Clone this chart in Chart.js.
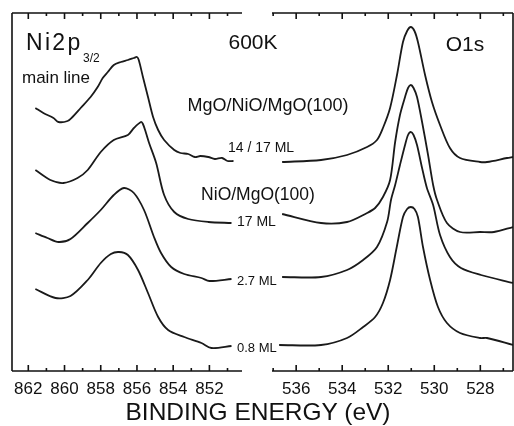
<!DOCTYPE html>
<html>
<head>
<meta charset="utf-8">
<script src="https://cdn.jsdelivr.net/npm/chart.js@4.4.0/dist/chart.umd.min.js"></script>
<style>
  body { margin: 0; background: #fff; }
  #wrap { position: relative; width: 514px; height: 426px; overflow: hidden;
          font-family: "Liberation Sans", Arial, sans-serif; color: #111; }
  canvas { position: absolute; top: 0; }
  .lbl { position: absolute; white-space: nowrap; line-height: 1; transform: translateY(-50%); }
  .c { transform: translate(-50%, -50%); }
</style>
</head>
<body>
<div id="wrap">
  <canvas id="niChart" width="250" height="426" style="left:0"></canvas>
  <canvas id="oChart" width="252" height="426" style="left:262px"></canvas>

  <div class="lbl" style="left:26px;top:42px;font-size:23px;letter-spacing:2.3px">Ni2p</div>
  <div class="lbl" style="left:83px;top:58px;font-size:12px">3/2</div>
  <div class="lbl" style="left:22px;top:77px;font-size:17px">main line</div>
  <div class="lbl c" style="left:253px;top:41px;font-size:21px">600K</div>
  <div class="lbl c" style="left:465px;top:43px;font-size:21px">O1s</div>
  <div class="lbl c" style="left:268px;top:105px;font-size:18px">MgO/NiO/MgO(100)</div>
  <div class="lbl c" style="left:258px;top:195px;font-size:17.5px">NiO/MgO(100)</div>
  <div class="lbl" style="left:228px;top:147px;font-size:14px">14 / 17 ML</div>
  <div class="lbl" style="left:237px;top:221px;font-size:14px">17 ML</div>
  <div class="lbl" style="left:237px;top:280px;font-size:13px">2.7 ML</div>
  <div class="lbl" style="left:237px;top:347px;font-size:13px">0.8 ML</div>
  <div class="lbl c" style="left:258px;top:412px;font-size:24.5px">BINDING ENERGY (eV)</div>
</div>
<script>
// tick labels and axis ranges (binding energy, eV)
const niTicks = [862, 860, 858, 856, 854, 852];
const oTicks = [536, 534, 532, 530, 528];
const niRange = [850.2, 862.9];
const oRange = [526.58, 537.05];

// Ni2p3/2 spectra (intensity, arb. units, offsets included)
const niE_14 = [861.61, 861.17, 860.61, 860.33, 859.83, 859.56, 859.11, 858.56, 858.17, 857.89, 857.61, 857.28, 856.89, 856.5, 856.17, 856.0, 855.9, 855.67, 855.39, 855.11, 854.83, 854.5, 853.94, 853.6, 853.17, 852.8, 852.5, 852.06, 851.7, 851.3, 851.0, 850.67];
const niI_14 = [263, 258, 253, 249, 250, 254, 263, 274, 284, 293, 299, 306, 309, 311, 313, 314, 311, 294, 274, 254, 241, 231, 221, 218, 217, 214, 215, 214, 212, 213, 210, 210];

const niE_17 = [861.61, 860.78, 860.06, 859.28, 858.72, 858.0, 857.28, 856.5, 856.17, 855.78, 855.67, 855.5, 855.33, 854.94, 854.5, 853.94, 853.17, 852.06, 850.78];
const niI_17 = [201, 191, 188, 193, 201, 219, 231, 236, 243, 249, 247, 238, 228, 208, 176, 159, 152, 149, 148];

const niE_27 = [861.61, 860.94, 860.33, 859.67, 858.72, 858.0, 857.28, 856.72, 856.17, 855.61, 855.06, 854.67, 854.11, 853.39, 852.44, 852.0, 850.78];
const niI_27 = [138, 133, 129, 132, 148, 161, 176, 183, 178, 161, 134, 118, 104, 97, 93, 90, 92];

const niE_08 = [861.61, 860.5, 859.67, 858.72, 858.0, 857.44, 857.0, 856.5, 855.94, 855.39, 854.83, 854.28, 853.39, 852.44, 851.89, 850.78];
const niI_08 = [82, 73, 75, 91, 108, 117, 119, 116, 101, 78, 54, 41, 34, 28, 23, 25];

// O1s spectra
const oE_14 = [536.61, 534.92, 533.79, 532.92, 532.49, 532.23, 531.92, 531.62, 531.36, 531.18, 531.02, 530.86, 530.71, 530.40, 530.10, 529.75, 529.32, 528.88, 528.01, 527.71, 526.84, 526.58];
const oI_14 = [209, 211, 216, 224, 231, 243, 263, 296, 329, 340, 344, 340, 329, 296, 269, 246, 223, 213, 209, 209, 213, 214];

const oE_17 = [536.61, 534.92, 533.79, 532.92, 532.57, 532.23, 531.92, 531.70, 531.49, 531.27, 531.14, 531.02, 530.90, 530.75, 530.53, 530.27, 530.05, 529.88, 529.45, 528.88, 528.01, 527.41, 526.58];
const oI_17 = [157, 148, 149, 158, 163, 174, 191, 229, 256, 274, 283, 286, 283, 274, 249, 216, 186, 171, 148, 139, 139, 139, 144];

const oE_27 = [536.61, 534.92, 533.79, 533.09, 532.49, 532.05, 531.88, 531.70, 531.49, 531.27, 531.14, 531.02, 530.90, 530.75, 530.53, 530.32, 530.05, 529.75, 529.32, 528.84, 527.97, 526.58];
const oI_27 = [94, 94, 101, 111, 124, 149, 171, 186, 206, 226, 236, 239, 236, 226, 203, 183, 166, 136, 114, 103, 96, 88];

const oE_08 = [536.74, 534.92, 533.79, 533.09, 532.57, 532.23, 531.92, 531.63, 531.36, 531.18, 531.02, 530.86, 530.71, 530.49, 530.18, 529.84, 529.45, 528.88, 528.01, 527.71, 526.58];
const oI_08 = [26, 26, 33, 44, 54, 68, 91, 124, 154, 162, 164, 162, 154, 124, 91, 64, 48, 38, 33, 33, 26];

const FONT = '"Liberation Sans", Arial, sans-serif';
const INK = '#1a1a1a';

const pts = (e, i) => e.map((v, k) => ({ x: v, y: i[k] }));
const line = (label, e, i) => ({
  label, data: pts(e, i),
  borderColor: INK, borderWidth: 1.8, pointRadius: 0,
  tension: 0.3, fill: false,
});

// box lines + inward ticks, drawn from the x scale
const framePlugin = {
  id: 'frame',
  afterDraw(chart, args, opts) {
    const { ctx, chartArea: a, scales: { x } } = chart;
    ctx.save();
    ctx.strokeStyle = '#111';
    ctx.lineWidth = 1.6;
    ctx.beginPath();
    ctx.moveTo(a.left, a.top); ctx.lineTo(a.right, a.top);
    ctx.moveTo(a.left, a.bottom); ctx.lineTo(a.right, a.bottom);
    if (opts.leftSide) { ctx.moveTo(a.left, a.top); ctx.lineTo(a.left, a.bottom); }
    if (opts.rightSide) { ctx.moveTo(a.right, a.top); ctx.lineTo(a.right, a.bottom); }
    for (let v = Math.ceil(x.min); v <= x.max; v++) {
      const px = x.getPixelForValue(v);
      const len = v % 2 === 0 ? 6 : 3;
      ctx.moveTo(px, a.bottom); ctx.lineTo(px, a.bottom - len);
      ctx.moveTo(px, a.top); ctx.lineTo(px, a.top + len);
    }
    ctx.stroke();
    ctx.restore();
  }
};

function makeChart(id, datasets, range, ticks, pad, sides) {
  return new Chart(document.getElementById(id), {
    type: 'line',
    data: { datasets },
    plugins: [framePlugin],
    options: {
      responsive: false,
      devicePixelRatio: 1,
      animation: false,
      layout: { padding: pad },
      plugins: { legend: { display: false }, tooltip: { enabled: false }, frame: sides },
      scales: {
        x: {
          type: 'linear', reverse: true, min: range[0], max: range[1],
          grid: { display: false, drawTicks: false },
          border: { display: false },
          ticks: { autoSkip: false, maxRotation: 0, padding: 8, color: '#111',
                   font: { family: FONT, size: 17 } },
          afterBuildTicks: s => { s.ticks = ticks.map(v => ({ value: v })); },
          afterFit: s => { s.height = 40; },
        },
        y: { display: false, min: 0, max: 358 },
      },
    },
  });
}

makeChart('niChart', [
  line('14 / 17 ML', niE_14, niI_14),
  line('17 ML', niE_17, niI_17),
  line('2.7 ML', niE_27, niI_27),
  line('0.8 ML', niE_08, niI_08),
], niRange, niTicks, { left: 12, right: 8, top: 13, bottom: 15 }, { leftSide: true });

makeChart('oChart', [
  line('14 / 17 ML', oE_14, oI_14),
  line('17 ML', oE_17, oI_17),
  line('2.7 ML', oE_27, oI_27),
  line('0.8 ML', oE_08, oI_08),
], oRange, oTicks, { left: 10, right: 1, top: 13, bottom: 15 }, { rightSide: true });
</script>
</body>
</html>
